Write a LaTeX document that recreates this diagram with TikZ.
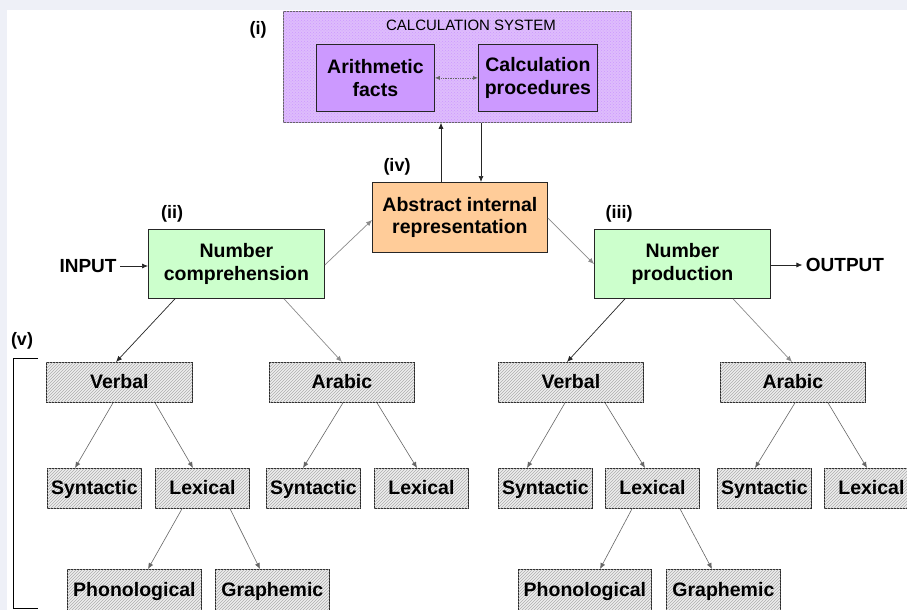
\documentclass[tikz,border=0pt]{standalone}
\usepackage{fontspec}
\setmainfont{Liberation Sans}
\usetikzlibrary{patterns,arrows.meta,calc}
\definecolor{bgcol}{RGB}{238,240,247}
\definecolor{calcfill}{RGB}{222,188,252}
\definecolor{lilac}{RGB}{204,153,255}
\definecolor{peach}{RGB}{255,204,153}
\definecolor{mint}{RGB}{204,255,204}
\definecolor{hatchbg}{RGB}{238,238,238}
\tikzset{
  x=1pt, y=-1pt,
  basebox/.style={draw=black!85, line width=0.8pt, anchor=north west, inner sep=0pt, align=center,
     font=\fontsize{19.5}{22.5}\selectfont\bfseries},
  colbox/.style={basebox, fill=#1},
  hatchbox/.style={basebox, minimum height=40, fill=hatchbg, text height=13pt, text depth=0pt,
     postaction={pattern=north east lines, pattern color=black!32}},
  arr/.style={-{Latex[length=6pt,width=5pt]}, line width=0.7pt, draw=black!85},
  larr/.style={-{Latex[length=6pt,width=5pt]}, line width=0.7pt, draw=black!45},
  tarr/.style={-{Latex[length=6pt,width=5pt]}, line width=0.6pt, draw=black!60},
  lab/.style={font=\fontsize{18}{20}\selectfont\bfseries},
}
\begin{document}
\begin{tikzpicture}
\useasboundingbox (0,0) rectangle (907,610);
\fill[bgcol] (0,0) rectangle (907,610);
\fill[white] (7,10) rectangle (907,610);

% calculation system
\node[basebox, draw=black!60, fill=calcfill, minimum width=348, minimum height=111,
  postaction={pattern=crosshatch dots, pattern color=lilac}] (calc) at (283,11) {};
\node[font=\fontsize{15}{17}\selectfont] (calctitle) at (471,25) {CALCULATION SYSTEM};
\node[colbox=lilac, minimum width=118, minimum height=67] (arith) at (316,44) {Arithmetic\\facts};
\node[colbox=lilac, minimum width=119, minimum height=67] (proc) at (478,44) {Calculation\\procedures};
\draw[{Latex[length=5pt,width=4pt]}-{Latex[length=5pt,width=4pt]}, line width=0.7pt, draw=black!60, densely dotted]
  (arith.east) -- (proc.west);
\node[lab] (li) at (258,30) {(i)};

% abstract
\node[colbox=peach, minimum width=175, minimum height=70] (abs) at (372,182) {Abstract internal\\representation};
\node[lab] (liv) at (397,167) {(iv)};
\draw[arr] ([xshift=69]abs.north west) -- ([xshift=158]calc.south west);
\draw[arr] ([xshift=198]calc.south west) -- ([xshift=109]abs.north west);

% comprehension / production
\node[colbox=mint, minimum width=176, minimum height=69] (comp) at (148,229) {Number\\comprehension};
\node[lab] (lii) at (172,214) {(ii)};
\node[colbox=mint, minimum width=176, minimum height=69] (prod) at (594,229) {Number\\production};
\node[lab] (liii) at (619,214) {(iii)};
\node[font=\fontsize{19}{22}\selectfont\bfseries] (input) at (88,266) {INPUT};
\node[font=\fontsize{19}{22}\selectfont\bfseries] (output) at (845,265) {OUTPUT};
\draw[arr] (input.east) -- (input.east -| comp.west);
\draw[arr] (output.west -| prod.east) -- (output.west);
\draw[larr] ([yshift=-36]comp.north east) -- ([yshift=-38]abs.north west);
\draw[larr] ([yshift=-36]abs.north east) -- ([yshift=-35]prod.north west);

% level 1
\node[hatchbox, minimum width=146] (verbL) at (46,362) {Verbal};
\node[hatchbox, minimum width=145] (arabL) at (269,362) {Arabic};
\node[hatchbox, minimum width=145] (verbR) at (498,362) {Verbal};
\node[hatchbox, minimum width=145] (arabR) at (720,362) {Arabic};
\draw[arr] ([xshift=27]comp.south west) -- ([xshift=70]verbL.north west);
\draw[larr] ([xshift=136]comp.south west) -- ([xshift=73]arabL.north west);
\draw[arr] ([xshift=31]prod.south west) -- ([xshift=69]verbR.north west);
\draw[larr] ([xshift=139]prod.south west) -- ([xshift=72]arabR.north west);

% level 2
\node[hatchbox, minimum width=94] (synL) at (47,468) {Syntactic};
\node[hatchbox, minimum width=94] (lexL) at (155,468) {Lexical};
\node[hatchbox, minimum width=94] (synAL) at (266,468) {Syntactic};
\node[hatchbox, minimum width=94] (lexAL) at (374,468) {Lexical};
\node[hatchbox, minimum width=94] (synR) at (498,468) {Syntactic};
\node[hatchbox, minimum width=94] (lexR) at (605,468) {Lexical};
\node[hatchbox, minimum width=94] (synAR) at (717,468) {Syntactic};
\node[hatchbox, minimum width=94] (lexAR) at (824,468) {Lexical};
\draw[tarr] ([xshift=67]verbL.south west) -- ([xshift=28]synL.north west);
\draw[tarr] ([xshift=109]verbL.south west) -- ([xshift=38]lexL.north west);
\draw[tarr] ([xshift=74]arabL.south west) -- ([xshift=37]synAL.north west);
\draw[tarr] ([xshift=108]arabL.south west) -- ([xshift=43]lexAL.north west);
\draw[tarr] ([xshift=67]verbR.south west) -- ([xshift=29]synR.north west);
\draw[tarr] ([xshift=107]verbR.south west) -- ([xshift=40]lexR.north west);
\draw[tarr] ([xshift=75]arabR.south west) -- ([xshift=38]synAR.north west);
\draw[tarr] ([xshift=108]arabR.south west) -- ([xshift=43]lexAR.north west);

% level 3
\node[hatchbox, minimum width=134, minimum height=41] (phonL) at (67,569) {Phonological};
\node[hatchbox, minimum width=114, minimum height=41] (graphL) at (215,569) {Graphemic};
\node[hatchbox, minimum width=133, minimum height=41] (phonR) at (518,569) {Phonological};
\node[hatchbox, minimum width=114, minimum height=41] (graphR) at (666,569) {Graphemic};
\draw[tarr] ([xshift=27]lexL.south west) -- ([xshift=81]phonL.north west);
\draw[tarr] ([xshift=75]lexL.south west) -- ([xshift=45]graphL.north west);
\draw[tarr] ([xshift=27]lexR.south west) -- ([xshift=82]phonR.north west);
\draw[tarr] ([xshift=75]lexR.south west) -- ([xshift=46]graphR.north west);

% bracket (v)
\node[lab] (lv) at (22,341) {(v)};
\coordinate (bt) at (38,358);
\coordinate (bb) at (38,608);
\draw[line width=0.8pt] (bt) -- (13,358) -- (13,608) -- (bb);
\end{tikzpicture}
\end{document}
